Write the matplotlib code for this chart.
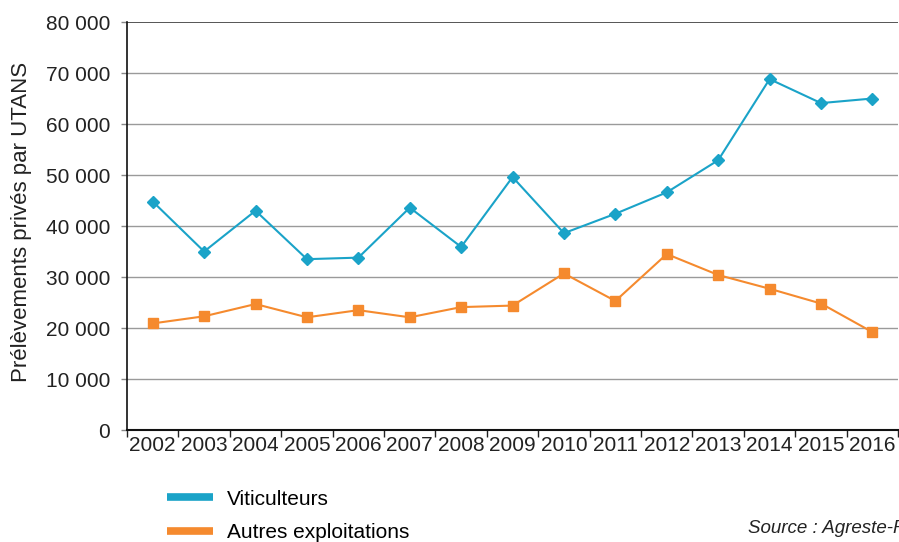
import numpy as np
import matplotlib.pyplot as plt
from matplotlib.lines import Line2D

plt.rcParams['font.family'] = ['Liberation Sans', 'DejaVu Sans']

years = [str(y) for y in range(2002, 2017)]
viticulteurs = [44800, 35000, 43000, 33500, 33800, 43600, 35900, 49600,
                38600, 42400, 46600, 52900, 68800, 64100, 65000]
autres = [20900, 22300, 24700, 22100, 23500, 22100, 24100, 24400,
          30700, 25300, 34500, 30400, 27700, 24800, 19200]

blue = '#1aa3c8'
orange = '#f58a2e'
txt = '#222222'

fig = plt.figure(figsize=(8.99, 5.42), dpi=100)
ax = fig.add_axes([0.1413, 0.2066, 0.8577, 0.7528])

x = np.arange(len(years))
ax.plot(x, viticulteurs, color=blue, lw=1.5, marker='D', ms=6.5, zorder=3)
ax.plot(x, autres, color=orange, lw=1.5, marker='s', ms=6.5, zorder=3)

ax.set_xlim(-0.5, len(years) - 0.5)
ax.set_ylim(0, 80000)
yt = np.arange(0, 80001, 10000)
ax.set_yticks(yt)
ax.set_yticklabels(['0' if v == 0 else f'{v // 1000} 000' for v in yt], fontsize=15, color=txt)
ax.set_xticks(x)
ax.set_xticklabels(years, fontsize=15, color=txt)
ax.set_xticks(np.arange(-0.5, len(years), 1), minor=True)
ax.tick_params(axis='x', which='major', length=0, pad=4)
ax.tick_params(axis='x', which='minor', length=5, width=1, color=txt, direction='out')
ax.tick_params(axis='y', length=4, width=1, color='#888888', pad=8)

for v in yt[1:-1]:
    ax.axhline(v, color='#9a9a9a', lw=1, zorder=1)
ax.axhline(80000, color='#555555', lw=1.4, zorder=1)

for s in ['top', 'right']:
    ax.spines[s].set_visible(False)
ax.spines['left'].set_color('#111111')
ax.spines['bottom'].set_color('#111111')
ax.spines['left'].set_linewidth(1.2)
ax.spines['bottom'].set_linewidth(1.5)

ax.set_ylabel('Prélèvements privés par UTANS', fontsize=16, color=txt)
ax.yaxis.set_label_coords(-0.123, 0.51)

handles = [Line2D([], [], color=blue, lw=5.5, solid_capstyle='butt'),
           Line2D([], [], color=orange, lw=5.5, solid_capstyle='butt')]
fig.legend(handles, ['Viticulteurs', 'Autres exploitations'], loc='upper left',
           bbox_to_anchor=(0.176, 0.112), frameon=False, fontsize=15,
           handlelength=2.25, labelspacing=0.7, handletextpad=0.65, borderaxespad=0)

fig.text(0.832, 0.016, 'Source : Agreste-RICA', fontsize=13.5, style='italic',
         color=txt, ha='left', va='baseline')

fig.savefig('out.png', dpi=100)
